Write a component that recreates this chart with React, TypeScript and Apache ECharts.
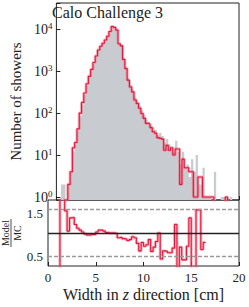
import React, { useEffect, useRef } from "react";
import * as echarts from "echarts";

// ---- data (bins of 0.25 cm from 0 to 20 cm) ----
const binStart = 0;
const binWidth = 0.25;

const modelCounts = [
  0, 0, 0, 0, 0,
  2, 4, 15, 20, 42,
  100, 180, 300, 500, 750,
  1100, 1600, 2300, 3200, 3900,
  4600, 5500, 6800, 8800, 11500,
  11000, 9500, 4500, 4000, 1900,
  1150, 610, 420, 320, 205,
  170, 130, 98, 75, 57,
  55, 45, 36, 33, 26,
  25, 24, 13, 17, 13,
  15, 10, 14, 14, 2,
  8, 5, 5, 4, 4,
  1, 1, 3, 3, 1,
  1, 1, 1, 1, 0,
  0, 0, 0, 0, 1,
  0, 0, 0, 0, 0,
];

const mcCounts = [
  0, 0, 2, 2, 0,
  2, 4, 12, 18, 38,
  85, 160, 270, 450, 700,
  1000, 1500, 2150, 3000, 3800,
  4600, 5400, 6600, 8300, 10500,
  10500, 9200, 4700, 4200, 2100,
  1250, 680, 470, 360, 240,
  190, 150, 115, 90, 70,
  62, 52, 45, 40, 30,
  34, 28, 20, 24, 18,
  14, 12, 22, 12, 6,
  12, 5, 6, 3, 8,
  4, 10, 2, 2, 5,
  1, 1, 1, 0, 4,
  0, 0, 1, 1, 1,
  0, 1, 0, 0, 0,
];

const ratioValues: (number | null)[] = [
  null, null, 0, 0, 0,
  3, 2.5, 1.47, 1.04, 1.32,
  1.33, 1.18, 1.1, 1.06, 1.02,
  0.98, 0.96, 0.96, 0.97, 0.97,
  1.02, 1.06, 1.06, 1.04, 1.01,
  1.0, 1.0, 1.0, 0.99, 0.9,
  0.91, 0.88, 0.87, 0.84, 0.86,
  0.92, 0.9, 0.78, 0.62, 0.8,
  0.72, 0.75, 0.86, 0.61, 0.7,
  0.82, 1.0, 0.45, 0.62, 0.61,
  0.58, 0.58, 0.68, 1.18, 0.2,
  0.7, 0.43, 0.43, 0.72, 1.32,
  0.2, 0.2, 1.49, 1.49, 0.65,
  0.8, null, null, null, null,
  null, null, null, null, null,
  null, null, null, null, null,
];

const xTickValues = [0, 5, 10, 15, 20];
const logTickPowers = [0, 1, 2, 3, 4];
const ratioLabelValues = [0.5, 1.5];
const ratioTickValues = [0.5, 1.0, 1.5];
const ratioDashedLines = [0.5, 1.5];
const ratioUnityLine = 1.0;

const FONT = "'Liberation Serif', 'DejaVu Serif', serif";
const INK = "#222222";
const GRAY = "#c8cbcf";
const RED = "#e3173d";
const PINK = "rgba(240,110,130,0.55)";
const FLOOR = 1e-3;

function stepPoints(values: (number | null)[], floorZero: boolean) {
  const pts: any[] = values.map((v, i) => {
    const x = binStart + i * binWidth;
    if (v === null) return [x, null];
    return [x, floorZero && v <= 0 ? FLOOR : v];
  });
  const last = pts[pts.length - 1][1];
  pts.push([binStart + values.length * binWidth, last]);
  return pts;
}

export default function App() {
  const ref = useRef<HTMLDivElement>(null);

  useEffect(() => {
    if (!ref.current) return;
    const chart = echarts.init(ref.current, undefined, { renderer: "svg" });

    const modelPts = stepPoints(modelCounts, true);
    const mcPts = stepPoints(mcCounts, true);
    const ratioPts = stepPoints(ratioValues, false);

    const option: any = {
      animation: false,
      backgroundColor: "#ffffff",
      textStyle: { fontFamily: FONT },
      grid: [
        { left: 48, top: 3, width: 191, height: 197, show: true, borderColor: INK, borderWidth: 1, backgroundColor: "transparent" },
        { left: 48, top: 200, width: 191, height: 66, show: true, borderColor: INK, borderWidth: 1, backgroundColor: "transparent" },
      ],
      xAxis: [
        {
          type: "value", gridIndex: 0, min: 0, max: 20, interval: 5,
          axisLine: { show: false },
          axisTick: { show: true, inside: true, length: 4, lineStyle: { color: INK } },
          axisLabel: { show: false },
          splitLine: { show: false },
        },
        {
          type: "value", gridIndex: 1, min: 0, max: 20, interval: 5,
          axisLine: { show: false },
          axisTick: { show: true, inside: true, length: 4, lineStyle: { color: INK } },
          axisLabel: {
            show: true, fontSize: 13, fontFamily: FONT, color: INK, margin: 5,
            formatter: (v: number) => (xTickValues.includes(v) ? String(v) : ""),
          },
          splitLine: { show: false },
          name: "{r|Width in }{i|z}{r| direction [cm]}",
          nameLocation: "middle",
          nameGap: 20,
          nameTextStyle: {
            rich: {
              r: { fontSize: 16, fontFamily: FONT, color: INK },
              i: { fontSize: 16, fontFamily: FONT, color: INK, fontStyle: "italic" },
            },
          },
        },
      ],
      yAxis: [
        {
          type: "log", logBase: 10, gridIndex: 0, min: 0.85, max: 42000,
          axisLine: { show: false },
          axisTick: { show: true, inside: true, length: 4, lineStyle: { color: INK } },
          splitLine: { show: false },
          axisLabel: {
            show: true, margin: 4, color: INK, fontFamily: FONT,
            formatter: (v: number) => {
              const p = Math.log10(v);
              const r = Math.round(p);
              if (Math.abs(p - r) > 1e-6 || !logTickPowers.includes(r)) return "";
              return `{b|10}{s|${r}}`;
            },
            rich: {
              b: { fontSize: 14, fontFamily: FONT, color: INK },
              s: { fontSize: 9, fontFamily: FONT, color: INK, padding: [0, 0, 7, 0] },
            },
          },
          name: "Number of showers",
          nameLocation: "middle",
          nameGap: 29,
          nameTextStyle: { fontSize: 15, fontFamily: FONT, color: INK },
        },
        {
          type: "value", gridIndex: 1, min: 0.3, max: 1.7,
          axisLine: { show: false },
          axisTick: { show: true, inside: true, length: 4, lineStyle: { color: INK }, customValues: ratioTickValues },
          splitLine: { show: false },
          axisLabel: {
            show: true, fontFamily: FONT, color: INK, margin: 5,
            customValues: ratioLabelValues,
            formatter: (v: number) => (v > 1 ? `{hi|${v.toFixed(1)}}` : `{lo|${v.toFixed(1)}}`),
            rich: {
              hi: { fontSize: 13, fontFamily: FONT, color: INK, padding: [9, 0, 0, 0] },
              lo: { fontSize: 13, fontFamily: FONT, color: INK },
            },
          },
        },
      ],
      series: [
        {
          type: "line", xAxisIndex: 0, yAxisIndex: 0, step: "end",
          data: mcPts, showSymbol: false, symbol: "none", silent: true,
          lineStyle: { width: 0, color: GRAY },
          areaStyle: { color: GRAY, opacity: 1, origin: FLOOR },
          z: 1,
        },
        {
          type: "line", xAxisIndex: 0, yAxisIndex: 0, step: "end",
          data: modelPts, showSymbol: false, symbol: "none", silent: true,
          lineStyle: { width: 3, color: PINK },
          z: 2,
        },
        {
          type: "line", xAxisIndex: 0, yAxisIndex: 0, step: "end",
          data: modelPts, showSymbol: false, symbol: "none", silent: true,
          lineStyle: { width: 1.1, color: RED },
          z: 3,
        },
        {
          type: "line", xAxisIndex: 1, yAxisIndex: 1, step: "end",
          data: ratioPts, showSymbol: false, symbol: "none", silent: true,
          connectNulls: false,
          lineStyle: { width: 3, color: PINK },
          z: 2,
          markLine: {
            silent: true, symbol: "none", label: { show: false },
            data: [
              ...ratioDashedLines.map((v) => ({ yAxis: v, lineStyle: { color: "#9a9a9a", type: [4, 2], width: 1.3 } })),
              { yAxis: ratioUnityLine, lineStyle: { color: INK, type: "solid", width: 1.3 } },
            ],
          },
        },
        {
          type: "line", xAxisIndex: 1, yAxisIndex: 1, step: "end",
          data: ratioPts, showSymbol: false, symbol: "none", silent: true,
          connectNulls: false,
          lineStyle: { width: 1.1, color: RED },
          z: 3,
        },
      ],
      graphic: [
        {
          type: "text", left: 52, top: 4,
          style: { text: "Calo Challenge 3", fontSize: 16, fontFamily: FONT, fill: INK },
          z: 10,
        },
        {
          type: "group", x: 11, y: 233, rotation: Math.PI / 2,
          children: [
            { type: "text", x: 0, y: -1, style: { text: "Model", fontSize: 10, fontFamily: FONT, fill: INK, align: "center", verticalAlign: "bottom" } },
            { type: "line", shape: { x1: -14, y1: 0, x2: 14, y2: 0 }, style: { stroke: INK, lineWidth: 0.8 } },
            { type: "text", x: 0, y: 1, style: { text: "MC", fontSize: 10, fontFamily: FONT, fill: INK, align: "center", verticalAlign: "top" } },
          ],
        },
      ],
    };

    chart.setOption(option);
    return () => chart.dispose();
  }, []);

  return (
    <div
      ref={ref}
      style={{ position: "absolute", left: 0, top: 0, width: 249, height: 307 }}
    />
  );
}
